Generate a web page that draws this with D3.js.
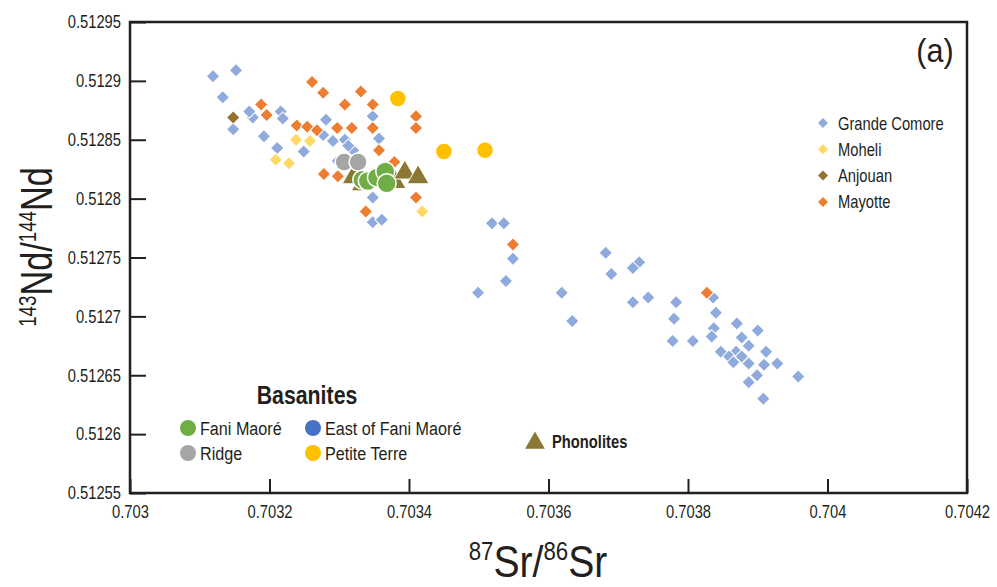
<!DOCTYPE html>
<html><head><meta charset="utf-8">
<script src="https://cdn.jsdelivr.net/npm/d3@7"></script>
<style>
body{margin:0;background:#fff;}
svg text{font-family:"Liberation Sans Narrow","Arial Narrow","Liberation Sans",Arial,sans-serif;fill:#231f20;}
</style></head><body>
<svg id="chart" width="997" height="587"></svg>
<script>
// ---- data ----
const xTickValues = [0.703, 0.7032, 0.7034, 0.7036, 0.7038, 0.704, 0.7042];
const xTickLabels = ["0.703", "0.7032", "0.7034", "0.7036", "0.7038", "0.704", "0.7042"];
const yTickValues = [0.51255, 0.5126, 0.51265, 0.5127, 0.51275, 0.5128, 0.51285, 0.5129, 0.51295];
const yTickLabels = ["0.51255", "0.5126", "0.51265", "0.5127", "0.51275", "0.5128", "0.51285", "0.5129", "0.51295"];

const grandeComoreSr = [0.703119,0.703152,0.703133,0.703148,0.703176,0.703171,0.703216,0.703219,0.703192,0.703211,0.703249,0.703281,0.703277,0.703291,0.703308,0.703320,0.703313,0.703298,0.703348,0.703357,0.703348,0.703348,0.703361,0.703519,0.703536,0.703549,0.703539,0.703499,0.703619,0.703634,0.703682,0.703690,0.703730,0.703721,0.703721,0.703743,0.703783,0.703780,0.703778,0.703807,0.703836,0.703840,0.703837,0.703834,0.703870,0.703900,0.703877,0.703887,0.703847,0.703869,0.703859,0.703877,0.703865,0.703912,0.703887,0.703909,0.703928,0.703899,0.703887,0.703958,0.703908];
const grandeComoreNd = [0.512904,0.512909,0.512886,0.512859,0.512869,0.512874,0.512874,0.512868,0.512853,0.512843,0.512840,0.512867,0.512854,0.512849,0.512850,0.512841,0.512845,0.512832,0.512870,0.512851,0.512801,0.512780,0.512782,0.512779,0.512779,0.512749,0.512730,0.512720,0.512720,0.512696,0.512754,0.512736,0.512746,0.512741,0.512712,0.512716,0.512712,0.512698,0.512679,0.512679,0.512716,0.512703,0.512690,0.512683,0.512694,0.512688,0.512682,0.512675,0.512670,0.512670,0.512666,0.512666,0.512661,0.512670,0.512660,0.512659,0.512660,0.512650,0.512644,0.512649,0.512630];

const moheliSr = [0.703209,0.703228,0.703238,0.703258,0.703419];
const moheliNd = [0.512833,0.512830,0.512850,0.512849,0.512789];

const anjouanSr = [0.703148];
const anjouanNd = [0.512869];

const mayotteSr = [0.703188,0.703196,0.703239,0.703254,0.703268,0.703261,0.703277,0.703297,0.703318,0.703308,0.703331,0.703348,0.703348,0.703410,0.703410,0.703357,0.703379,0.703278,0.703298,0.703410,0.703338,0.703549,0.703827];
const mayotteNd = [0.512880,0.512871,0.512862,0.512861,0.512858,0.512899,0.512890,0.512860,0.512860,0.512880,0.512891,0.512880,0.512860,0.512870,0.512860,0.512841,0.512831,0.512821,0.512819,0.512801,0.512789,0.512761,0.512720];

const phonoliteSr = [0.703320,0.703333,0.703380,0.703394,0.703413];
const phonoliteNd = [0.512818,0.512812,0.512814,0.512822,0.512818];

const ridgeSr = [0.703307,0.703327];
const ridgeNd = [0.512831,0.512831];

const faniMaoreSr = [0.703333,0.703341,0.703354,0.703366,0.703368];
const faniMaoreNd = [0.512816,0.512815,0.512818,0.512823,0.512813];

const petiteTerreSr = [0.703384,0.703450,0.703509];
const petiteTerreNd = [0.512885,0.512840,0.512841];

const islandNames = ["Grande Comore", "Moheli", "Anjouan", "Mayotte"];
const islandColors = ["#8FAADC", "#FFD966", "#94702A", "#ED7D31"];
const basaniteNames = ["Fani Maoré", "East of Fani Maoré", "Ridge", "Petite Terre"];
const basaniteColors = ["#70AD47", "#4472C4", "#A5A5A5", "#FFC000"];
const phonoliteColor = "#8B7834";

// ---- chart ----
const svg = d3.select("#chart");
const L = 130, R = 967, T = 22, B = 493;
const x = d3.scaleLinear().domain([0.703, 0.7042]).range([L, R]);
const y = d3.scaleLinear().domain([0.51255, 0.51295]).range([B, T]);

// text condensed horizontally (narrow face emulation), anchored at (px, py)
function narrowText(parent, px, py, k, str, size, opts = {}) {
  const t = parent.append("g").attr("transform", `translate(${px},${py}) scale(${k},1)`)
    .append("text").attr("font-size", size).text(str);
  if (opts.anchor) t.attr("text-anchor", opts.anchor);
  if (opts.bold) t.attr("font-weight", "bold");
  return t;
}

const xAxis = d3.axisBottom(x).tickValues(xTickValues)
  .tickFormat((d, i) => xTickLabels[i]).tickSizeInner(-14).tickSizeOuter(0).tickPadding(12);
const yAxis = d3.axisLeft(y).tickValues(yTickValues)
  .tickFormat((d, i) => yTickLabels[i]).tickSizeInner(-16).tickSizeOuter(0).tickPadding(11);

const gx = svg.append("g").attr("transform", `translate(0,${B})`).call(xAxis);
const gy = svg.append("g").attr("transform", `translate(${L},0)`).call(yAxis);
[gx, gy].forEach(g => {
  g.select(".domain").remove();
  g.selectAll(".tick line").attr("stroke", "#231f20").attr("stroke-width", 2);
  g.selectAll(".tick text").attr("font-size", 18).attr("fill", "#231f20")
    .style("font-family", '"Liberation Sans Narrow","Arial Narrow","Liberation Sans",Arial,sans-serif')
    .attr("transform", "scale(0.82,1)");
});

svg.append("rect").attr("x", L).attr("y", T).attr("width", R - L).attr("height", B - T)
  .attr("fill", "none").attr("stroke", "#231f20").attr("stroke-width", 2.5);

const diamond = d3.symbol().type(d3.symbolSquare).size(90);
function drawDiamonds(xs, ys, color) {
  svg.append("g").selectAll("path").data(xs.map((v, i) => [v, ys[i]])).join("path")
    .attr("d", diamond)
    .attr("transform", d => `translate(${x(d[0])},${y(d[1])}) rotate(45)`)
    .attr("fill", color).attr("stroke", "#fff").attr("stroke-width", 1);
}
drawDiamonds(grandeComoreSr, grandeComoreNd, islandColors[0]);
drawDiamonds(moheliSr, moheliNd, islandColors[1]);
drawDiamonds(anjouanSr, anjouanNd, islandColors[2]);
drawDiamonds(mayotteSr, mayotteNd, islandColors[3]);

const tri = d3.symbol().type(d3.symbolTriangle).size(210);
svg.append("g").selectAll("path").data(phonoliteSr.map((v, i) => [v, phonoliteNd[i]])).join("path")
  .attr("d", tri)
  .attr("transform", d => `translate(${x(d[0])},${y(d[1])})`)
  .attr("fill", phonoliteColor).attr("stroke", "#fff").attr("stroke-width", 1);

function drawCircles(xs, ys, color, r) {
  svg.append("g").selectAll("circle").data(xs.map((v, i) => [v, ys[i]])).join("circle")
    .attr("cx", d => x(d[0])).attr("cy", d => y(d[1])).attr("r", r)
    .attr("fill", color).attr("stroke", "#fff").attr("stroke-width", 1.5);
}
drawCircles(ridgeSr, ridgeNd, basaniteColors[2], 9);
drawCircles(faniMaoreSr, faniMaoreNd, basaniteColors[0], 9.5);
drawCircles(petiteTerreSr, petiteTerreNd, basaniteColors[3], 8.5);

// panel label
narrowText(svg, 935, 62, 0.9, "(a)", 34, { anchor: "middle" });

// island legend
islandNames.forEach((n, i) => {
  const cy = 123 + i * 26.3;
  svg.append("path").attr("d", d3.symbol().type(d3.symbolSquare).size(50))
    .attr("transform", `translate(823,${cy}) rotate(45)`).attr("fill", islandColors[i]);
  narrowText(svg, 838, cy + 6.5, 0.82, n, 18);
});

// basanite legend
narrowText(svg, 307, 404, 0.82, "Basanites", 26, { anchor: "middle", bold: true });
const bPos = [[188, 428], [313, 428], [188, 453], [313, 453]];
basaniteNames.forEach((n, i) => {
  svg.append("circle").attr("cx", bPos[i][0]).attr("cy", bPos[i][1]).attr("r", 8)
    .attr("fill", basaniteColors[i]);
  narrowText(svg, bPos[i][0] + 12, bPos[i][1] + 6.5, 0.85, n, 19);
});
svg.append("path").attr("d", d3.symbol().type(d3.symbolTriangle).size(170))
  .attr("transform", "translate(535,443)").attr("fill", phonoliteColor);
narrowText(svg, 552, 448, 0.82, "Phonolites", 18, { bold: true });

// axis titles (condensed via horizontal scale)
const xt = svg.append("g").attr("transform", "translate(538,577) scale(0.89,1)")
  .append("text").attr("text-anchor", "middle").attr("font-size", 44);
xt.append("tspan").attr("font-size", 25).attr("dy", -17).text("87");
xt.append("tspan").attr("dy", 17).text("Sr/");
xt.append("tspan").attr("font-size", 25).attr("dy", -17).text("86");
xt.append("tspan").attr("dy", 17).text("Sr");

const yt = svg.append("g").attr("transform", "translate(52,247) rotate(-90) scale(0.78,1)")
  .append("text").attr("text-anchor", "middle").attr("font-size", 44);
yt.append("tspan").attr("font-size", 24).attr("dy", -16).text("143");
yt.append("tspan").attr("dy", 16).text("Nd/");
yt.append("tspan").attr("font-size", 24).attr("dy", -16).text("144");
yt.append("tspan").attr("dy", 16).text("Nd");
</script>
</body></html>
